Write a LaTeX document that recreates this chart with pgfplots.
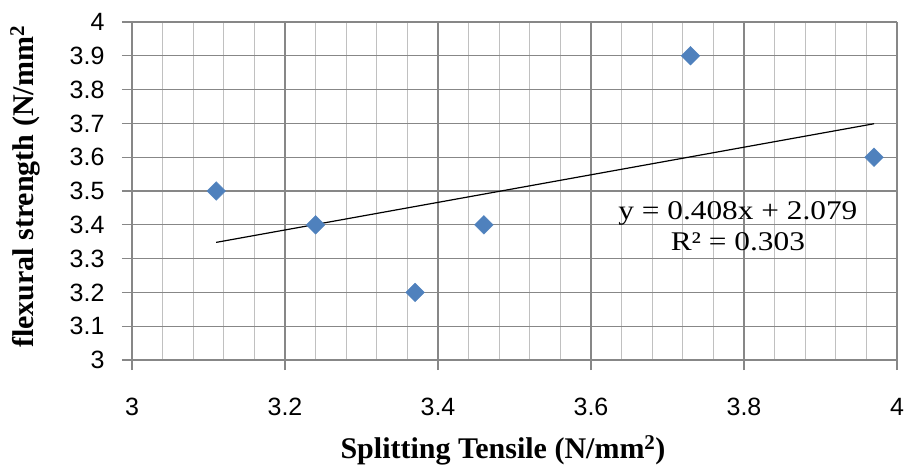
\documentclass[border=0pt]{standalone}
\usepackage{pgfplots}
\pgfplotsset{compat=1.18}
\usepackage{fontspec}
\setmainfont{Liberation Serif}
\newfontfamily\tickfont{Liberation Sans}
\definecolor{mk}{RGB}{79,129,189}
\definecolor{gmaj}{RGB}{135,135,135}
\definecolor{gmin}{RGB}{192,192,192}

\begin{document}
\begin{tikzpicture}
\useasboundingbox (-132pt,-104pt) rectangle (772pt,360pt);
\begin{axis}[
    at={(0,0)}, anchor=south west,
    scale only axis,
    width=765pt, height=338pt,
    xmin=3, xmax=4, ymin=3, ymax=4,
    xtick={3,3.2,...,4.01},
    ytick={3,3.1,...,4.01},
    minor x tick num=4,
    grid=both,
    major grid style={gmaj, line width=1.2pt},
    minor grid style={gmin, line width=1.2pt},
    axis line style={draw=none},
    tick style={gmaj, line width=1.2pt},
    tick align=outside,
    major tick length=10pt,
    minor tick length=0pt,
    xtick pos=bottom, ytick pos=left,
    ticklabel style={font=\tickfont\fontsize{25}{27}\selectfont},
    /pgf/number format/assume math mode=true,
    /pgf/number format/fixed,
    yticklabel style={xshift=-14pt},
    xticklabel style={anchor=center, yshift=-37pt},
    xlabel={\textbf{Splitting Tensile (N/mm\textsuperscript{2})}},
    xlabel style={font=\fontsize{30}{32}\selectfont, at={(axis description cs:0.485,-0.268)}, anchor=center},
    ylabel={\textbf{flexural strength (N/mm\textsuperscript{2}}},
    ylabel style={font=\fontsize{30}{32}\selectfont, at={(axis description cs:-0.1399,0.512)}, anchor=center},
]
\addplot[only marks, mark=square*, mark size=6.6pt, mark options={fill=mk, draw=mk, rotate=45}]
coordinates {
    (3.11,3.5) (3.24,3.4) (3.37,3.2) (3.46,3.4) (3.73,3.9) (3.97,3.6)
};
\addplot[black, line width=1.2pt] coordinates {
    (3.11,3.348) (3.97,3.699)
};
\node[font=\fontsize{27}{31}\selectfont, align=center, inner sep=0pt] at (axis cs:3.792,3.395)
  {\scalebox{1.16}[1]{y = 0.408x + 2.079}\\\scalebox{1.16}[1]{R² = 0.303}};
\end{axis}
\end{tikzpicture}
\end{document}
